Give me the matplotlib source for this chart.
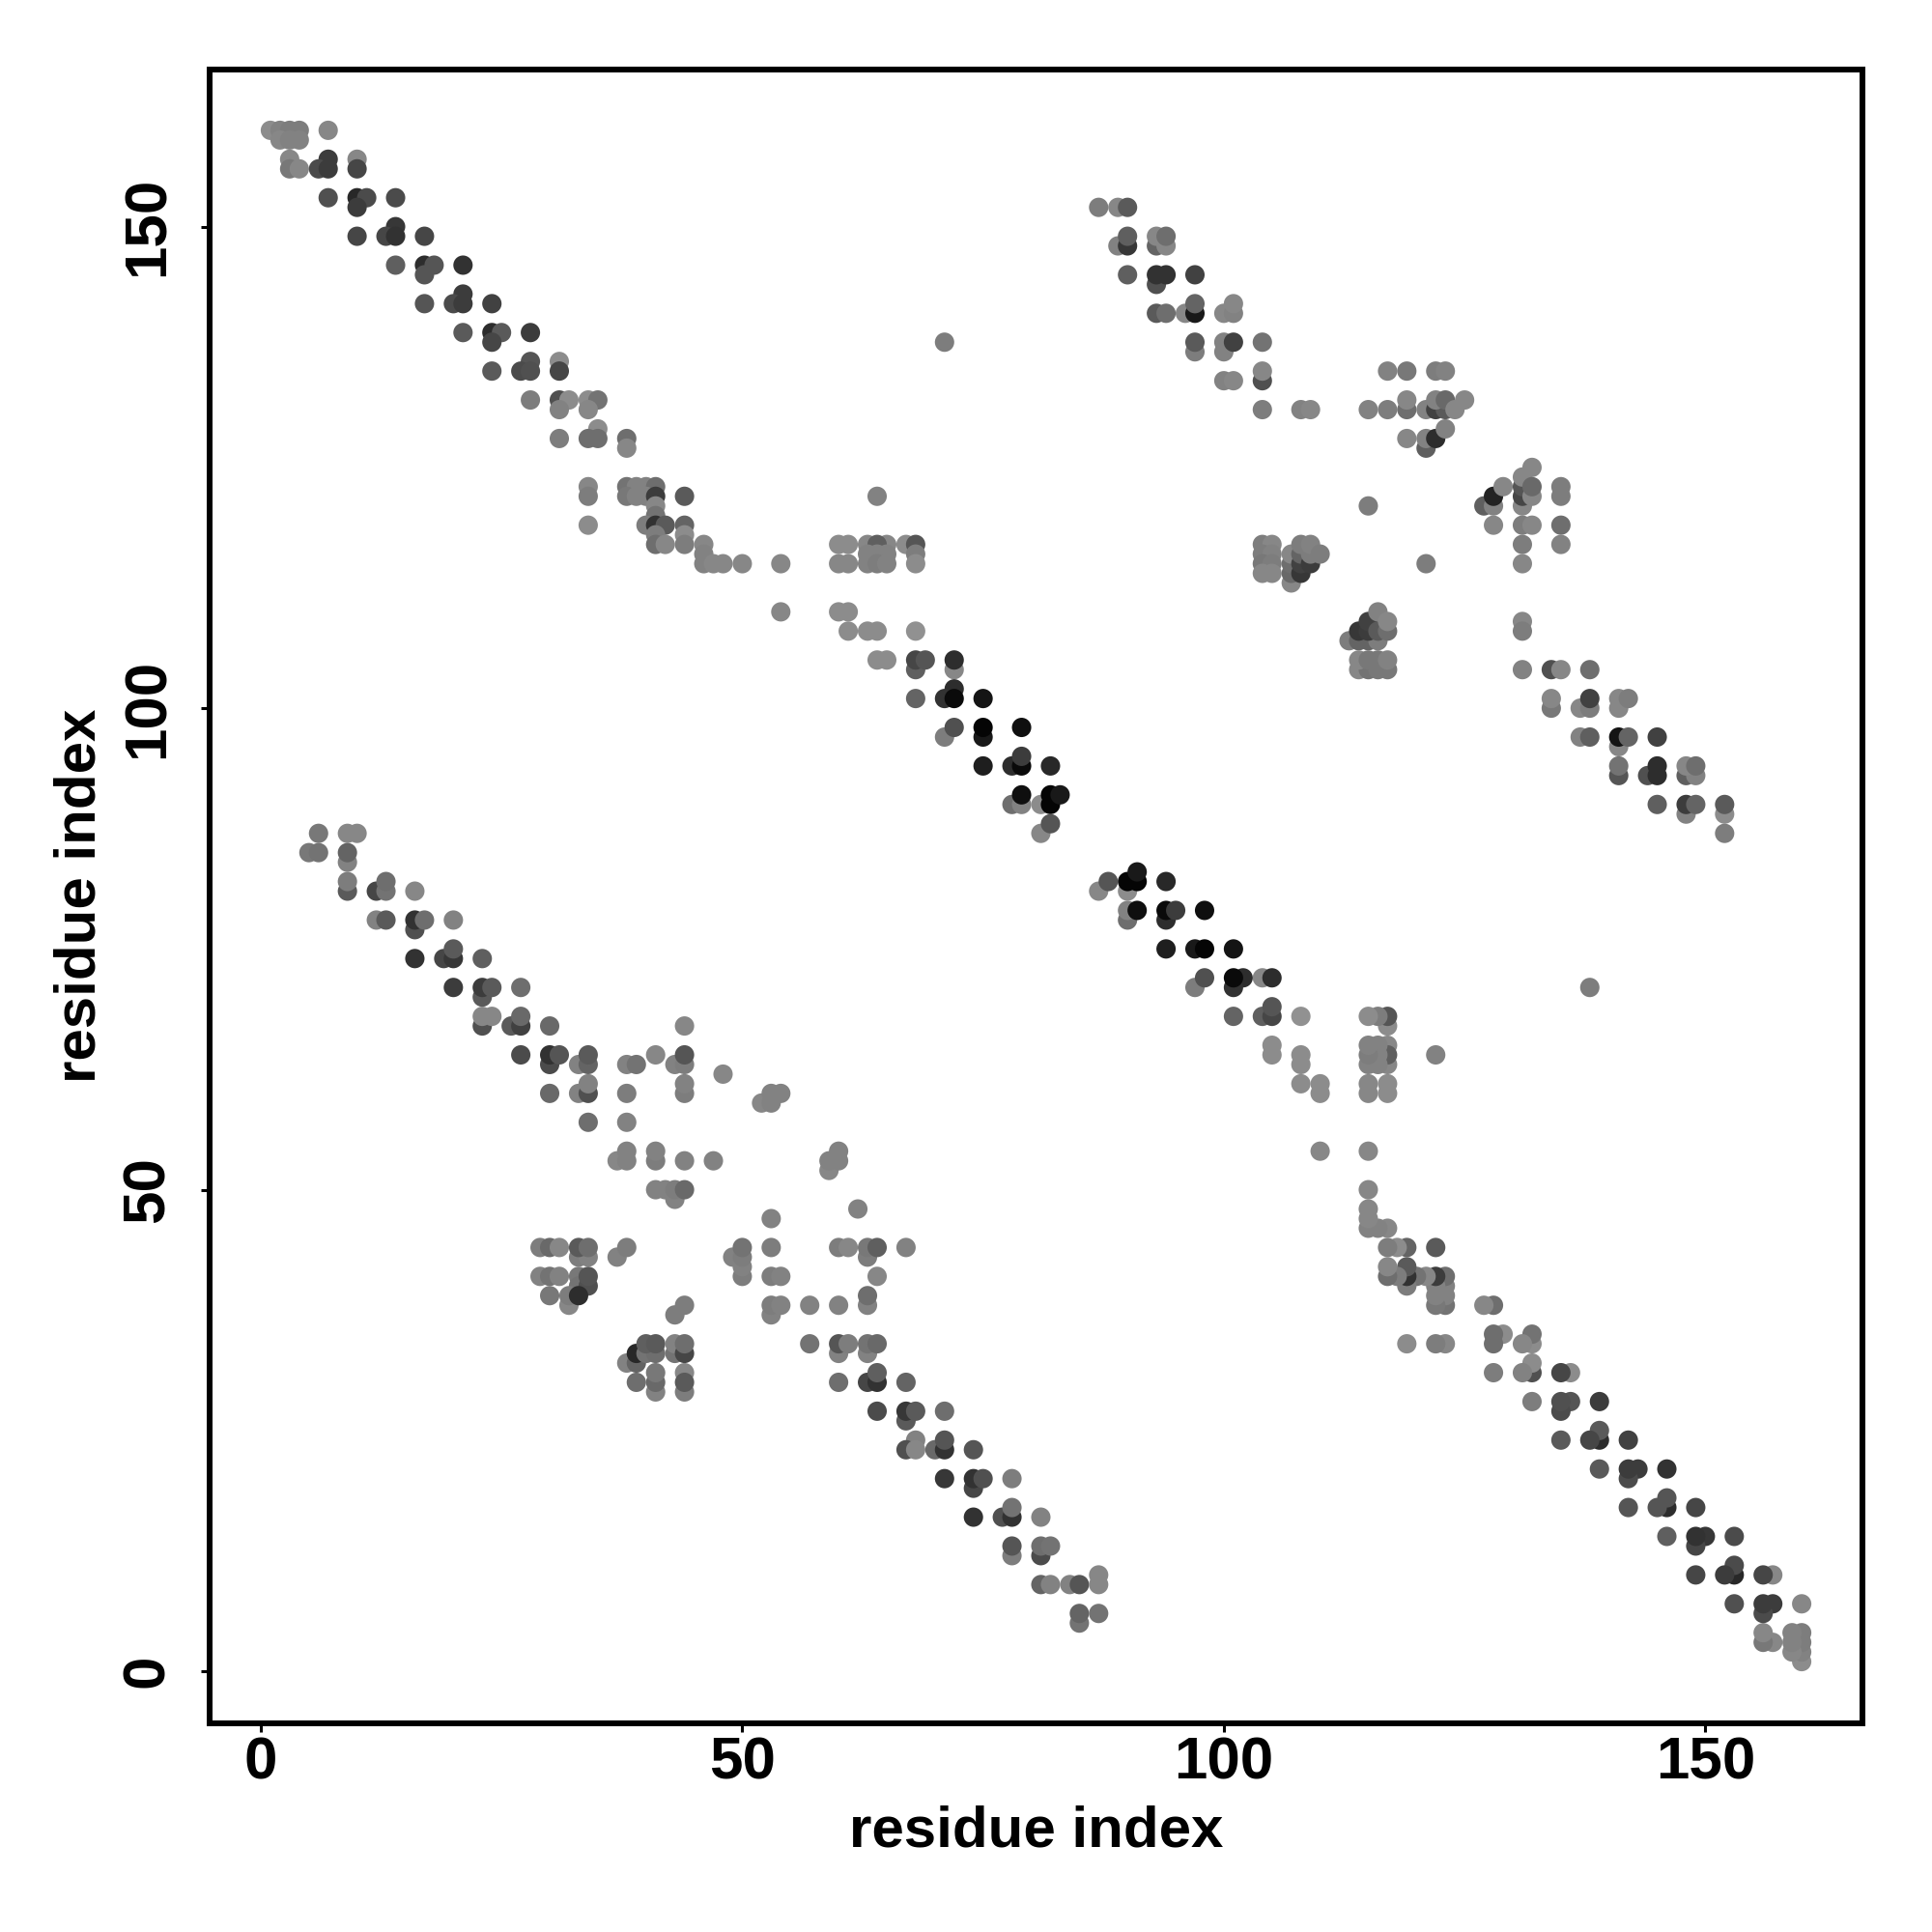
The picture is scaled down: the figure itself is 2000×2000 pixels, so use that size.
import matplotlib
matplotlib.use("Agg")
import matplotlib.pyplot as plt

# (residue i, residue j, gray level)
top_left_band = [
    (1,160,140),(2,160,130),(3,160,125),(4,160,125),(2,159,135),(3,159,130),(4,159,130),(7,160,135),
    (3,157,135),(7,157,60),(10,157,135),(3,156,120),(4,156,135),(6,156,75),(7,156,60),(10,156,70),
    (7,153,80),(10,153,40),(11,153,75),(14,153,75),(10,152,60),(14,150,55),
    (10,149,70),(13,149,70),(14,149,50),(17,149,70),(14,146,95),(17,146,45),(18,146,85),(21,146,50),(17,145,85),
    (21,143,60),(17,142,85),(20,142,75),(21,142,60),(24,142,65),(21,139,90),(24,139,45),(25,139,90),(28,139,60),(24,138,70),
    (28,136,85),(31,136,140),(24,135,90),(27,135,75),(28,135,80),(31,135,70),
    (28,132,125),(31,132,80),(32,132,140),(34,132,140),(35,132,115),(31,131,130),(34,131,135),
    (35,129,140),(31,128,125),(34,128,110),(35,128,110),(38,128,110),(38,127,135),(71,138,125),
]
middle_band_left = [
    (34,123,135),(38,123,115),(39,123,130),(40,123,130),(41,123,110),
    (34,122,125),(38,122,120),(39,122,130),(40,122,130),(41,122,60),(44,122,90),(64,122,130),
    (41,121,135),(41,120,115),(34,119,140),(40,119,125),(41,119,50),(42,119,90),(44,119,100),
    (41,118,125),(44,118,140),(41,117,110),(42,117,135),(44,117,125),(46,117,135),(46,116,130),
    (46,115,130),(47,115,135),(48,115,135),(50,115,135),(54,115,135),(54,110,135),
]
middle_band_right = [
    (60,117,140),(61,117,140),(63,117,135),(65,117,135),(67,117,140),(64,117,95),(68,117,85),
    (63,116,130),(64,116,130),(65,116,130),(68,116,125),
    (60,115,135),(61,115,135),(63,115,130),(64,115,125),(65,115,130),(68,115,140),
    (60,110,140),(61,110,140),(61,108,140),(63,108,140),(64,108,140),(68,108,145),
    (64,105,140),(65,105,140),(72,104,135),(68,104,95),(68,105,70),(69,105,85),(72,105,45),
    (72,102,45),(68,101,100),(71,101,50),(72,101,10),(75,101,20),(71,97,125),(72,98,80),(75,97,25),(75,98,5),(79,98,15),
    (75,94,30),(78,94,45),(79,94,10),(79,95,60),(82,94,40),
    (78,90,110),(79,90,130),(81,90,140),(79,91,15),(82,90,5),(82,91,5),(83,91,25),(81,87,135),(82,88,85),
]
upper_right_top = [
    (87,152,125),(89,152,135),(90,152,90),(89,148,130),(90,148,55),(90,149,95),(93,148,100),(94,148,135),(93,149,135),(94,149,110),
    (93,144,80),(90,145,95),(93,145,50),(94,145,50),(97,145,65),
    (93,141,90),(94,141,110),(96,141,135),(97,141,25),(97,142,100),(100,141,135),(101,141,130),(101,142,135),
    (97,137,125),(97,138,90),(100,137,130),(100,138,130),(101,138,65),(104,138,115),
    (104,134,80),(104,135,135),(100,134,130),(101,134,135),(104,131,125),(108,131,130),(109,131,135),
    (117,135,130),(119,135,120),(122,135,125),(123,135,130),
    (115,131,130),(117,131,125),(119,131,110),(119,132,135),(121,131,130),(122,131,65),(123,131,90),(122,132,130),(123,132,105),(124,131,135),(125,132,135),
    (121,127,95),(119,128,135),(121,128,130),(122,128,45),(123,129,130),
    (115,121,125),(121,115,125),
]
upper_right_blocks = [
    (104,117,125),(105,117,135),(104,116,125),(105,116,130),(104,115,120),(105,115,125),(104,114,135),(105,114,135),
    (107,113,135),(107,114,105),(107,115,110),(107,116,135),(108,114,55),(108,115,65),(108,116,100),(108,117,125),
    (109,115,60),(109,116,125),(109,117,130),(110,116,125),
    (113,107,125),(114,107,100),(115,107,100),(116,107,125),(114,108,55),(115,108,60),(115,109,65),(116,108,90),(117,108,110),(116,110,130),(117,109,135),
    (114,104,135),(115,104,115),(116,104,120),(117,104,120),(114,105,135),(115,105,120),(116,105,120),(117,105,130),
]
upper_right_bottom = [
    (127,121,95),(128,121,130),(128,122,35),(129,123,135),(128,119,135),
    (131,121,135),(131,122,70),(131,123,85),(131,124,135),(132,125,135),(132,122,135),(132,123,105),
    (131,119,125),(132,119,135),(131,117,125),(131,115,135),
    (135,122,125),(135,123,125),(135,119,110),(135,117,130),
    (131,109,135),(131,108,125),(131,104,130),(134,104,80),(135,104,135),(138,104,110),
    (134,100,120),(134,101,135),(137,100,135),(138,100,125),(138,101,65),(141,100,135),(141,101,135),(142,101,125),
    (137,97,130),(138,97,95),(141,96,135),(141,97,20),(142,97,100),(145,97,65),
    (141,93,85),(141,94,115),(144,93,80),(145,93,45),(145,94,45),(148,93,95),(149,93,130),(148,94,135),(149,94,110),
    (145,90,95),(148,89,130),(148,90,60),(149,90,100),(152,89,140),(152,90,90),(152,87,125),
]
lower_left_top = [
    (6,87,120),(9,87,135),(10,87,135),(5,85,120),(6,85,115),(9,84,130),(9,85,100),(9,81,90),(9,82,125),
    (12,81,70),(13,81,115),(13,82,110),(16,81,135),(12,78,130),(13,78,90),(16,77,80),(16,78,50),(17,78,110),(20,78,130),
    (16,74,50),(19,74,70),(20,74,55),(20,75,90),(23,74,95),(20,71,60),(23,70,90),(23,71,60),(24,71,90),(27,71,110),
    (23,67,80),(23,68,135),(24,68,135),(26,67,90),(27,67,65),(27,68,105),(30,67,105),(44,67,135),
    (27,64,75),(30,63,75),(30,64,50),(31,64,85),(33,63,130),(34,63,100),(34,64,90),
    (38,63,130),(39,63,115),(41,64,135),(43,63,130),(44,63,125),(44,64,85),(48,62,135),
    (30,60,105),(33,60,130),(34,60,80),(34,61,130),(38,60,125),(44,60,125),(44,61,130),
    (34,57,110),(38,57,130),(37,53,135),(38,53,130),(38,54,130),(41,53,125),(41,54,130),(44,53,130),(47,53,130),
    (43,49,130),(41,50,130),(42,50,130),(43,50,125),(44,50,105),
]
lower_left_mid = [
    (52,59,135),(53,59,130),(53,60,130),(54,60,130),
    (59,52,135),(59,53,130),(60,53,130),(60,54,130),(62,48,130),(53,47,130),
    (29,44,125),(30,44,105),(31,44,135),(33,43,125),(34,43,130),(33,44,90),(34,44,110),(37,43,130),(38,44,125),
    (49,43,130),(50,41,125),(50,42,130),(50,43,125),(50,44,115),(53,44,125),(53,41,125),(54,41,130),
    (60,44,125),(61,44,135),(63,43,125),(63,44,120),(64,44,95),(67,44,130),(64,41,135),
    (29,41,130),(30,41,115),(31,41,130),(33,41,120),(33,40,115),(34,40,80),(34,41,85),
    (30,39,120),(32,38,135),(32,39,125),(33,39,45),(43,37,125),(44,38,125),
    (53,37,130),(53,38,125),(54,38,130),(57,38,130),(60,38,130),(63,38,130),(63,39,110),
]
lower_left_bottom = [
    (38,32,130),(39,32,100),(39,33,40),(40,33,115),(41,33,110),(40,34,95),(41,34,90),(43,33,115),(43,34,130),(44,33,70),(44,34,110),
    (41,29,130),(41,30,105),(41,31,120),(39,30,110),(44,29,125),(44,31,135),(44,30,90),
    (57,34,115),(60,33,130),(60,34,85),(61,34,125),(63,33,130),(63,34,115),(64,34,105),
    (60,30,110),(63,30,70),(64,30,50),(64,31,95),(67,30,100),
    (64,27,75),(67,26,90),(67,27,55),(68,27,90),(71,27,110),
    (68,24,130),(67,23,80),(68,23,135),(70,23,105),(71,23,50),(71,24,85),(74,23,85),
    (71,20,55),(74,19,70),(74,20,50),(75,20,80),(78,20,125),
    (74,16,50),(77,16,80),(78,16,50),(78,17,115),(81,16,130),
    (78,12,125),(78,13,85),(81,12,75),(81,13,110),(82,13,115),
    (81,9,100),(82,9,130),(84,9,130),(85,9,85),(87,9,135),(87,10,135),(85,5,115),(85,6,100),(87,6,115),
]
tick_values = [0, 50, 100, 150]
axis_title = "residue index"

mirrored_groups = [top_left_band, middle_band_left, middle_band_right]
plain_groups = [upper_right_top, upper_right_blocks, upper_right_bottom,
                lower_left_top, lower_left_mid, lower_left_bottom]

plt.rcParams["font.family"] = ["Liberation Sans", "DejaVu Sans"]
fig = plt.figure(figsize=(10, 10), dpi=200, facecolor="white")
ax = fig.add_axes([216.5/2000, (2000-1783.5)/2000, 1712/2000, 1712/2000])


def draw(rows, swap=False):
    a = [r[0] for r in rows]
    b = [r[1] for r in rows]
    g = [r[2] for r in rows]
    if swap:
        a, b = b, a
    ax.scatter(a, b, c=g, cmap="gray", vmin=0, vmax=255, s=52, linewidths=0, zorder=2)


for group in mirrored_groups:
    draw(group)
    draw(group, swap=True)
for group in plain_groups:
    draw(group)

ax.set_xlim(-5.36, 166.36)
ax.set_ylim(-5.36, 166.36)
ax.set_xticks(tick_values)
ax.set_yticks(tick_values)
ax.tick_params(axis="both", length=3.3, width=1.1, color="black", labelsize=22.3)
ax.tick_params(axis="x", pad=1.6)
ax.tick_params(axis="y", pad=9)
for lab in ax.get_xticklabels():
    lab.set_fontweight("bold")
for lab in ax.get_yticklabels():
    lab.set_fontweight("bold")
    lab.set_rotation(90)
    lab.set_va("center")
ax.set_xlabel(axis_title, fontsize=21.6, fontweight="bold", labelpad=5)
ax.set_ylabel(axis_title, fontsize=21.6, fontweight="bold", labelpad=5.5)
for s in ax.spines.values():
    s.set_linewidth(2.16)

fig.savefig("out.png", dpi=200, facecolor="white")
